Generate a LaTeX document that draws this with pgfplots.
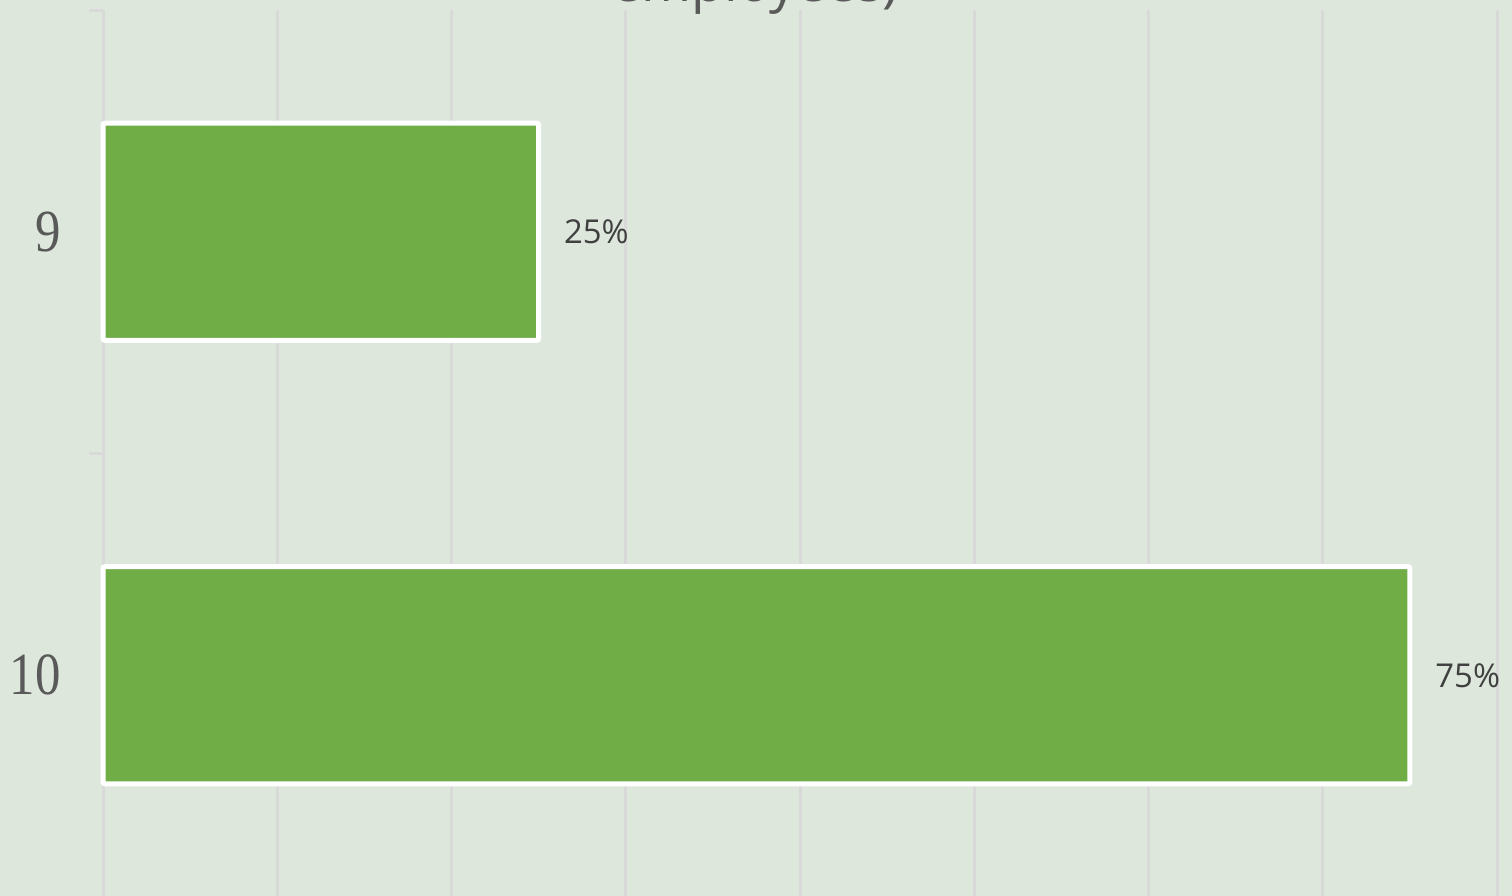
\documentclass[border=0pt]{standalone}
\usepackage{pgfplots}
\pgfplotsset{compat=1.18}
\usepackage{fontspec}
\setmainfont{Open Sans}
\newfontfamily\tickfont[FakeStretch=0.85]{Liberation Serif}
\definecolor{bg}{RGB}{221,231,220}
\definecolor{gridgray}{RGB}{217,217,217}
\definecolor{bargreen}{RGB}{112,173,71}
\definecolor{labelgray}{RGB}{64,64,64}
\definecolor{titlegray}{RGB}{89,89,89}
\begin{document}
\begin{tikzpicture}[x=1bp,y=1bp]
\fill[bg] (0,0) rectangle (756,-448);
\begin{axis}[
  at={(51.5bp,-448.5bp)}, anchor=south west,
  width=697bp, height=443.5bp, scale only axis,
  xbar, xmin=0, xmax=80, ymin=-0.5, ymax=1.5, y dir=reverse,
  bar width=0.49,
  clip=false,
  axis lines*=left,
  x axis line style={draw=none},
  y axis line style={gridgray, line width=1.5bp},
  xtick={0,10,...,80}, xticklabels={}, xmajorgrids,
  x tick style={draw=none},
  grid style={gridgray, line width=1.5bp},
  ytick={0,1}, yticklabels={9,10},
  minor ytick={-0.5,0.5,1.5},
  major tick length=0pt, minor tick length=7bp, tick align=outside,
  every minor tick/.append style={gridgray, line width=1.5bp},
  yticklabel style={font=\tickfont\fontsize{30}{30}\selectfont, text=titlegray, anchor=east, inner sep=0pt, xshift=-21bp},
  /pgf/number format/assume math mode=true,
  point meta=x,
  nodes near coords={\pgfmathprintnumber{\pgfplotspointmeta}\%},
  nodes near coords style={font=\fontsize{16.5}{16.5}\selectfont, text=labelgray, anchor=west, inner sep=0pt, xshift=11.5bp},
]
\addplot[fill=bargreen, draw=white, line width=2.5bp, rounded corners=1bp] coordinates {(25,0) (75,1)};
\end{axis}
\node[anchor=base, font=\fontsize{27}{32}\selectfont, text=titlegray] at (377.5,-0.8) {employees)};
\pgfresetboundingbox
\useasboundingbox (0,0) rectangle (756,-448);
\end{tikzpicture}
\end{document}
